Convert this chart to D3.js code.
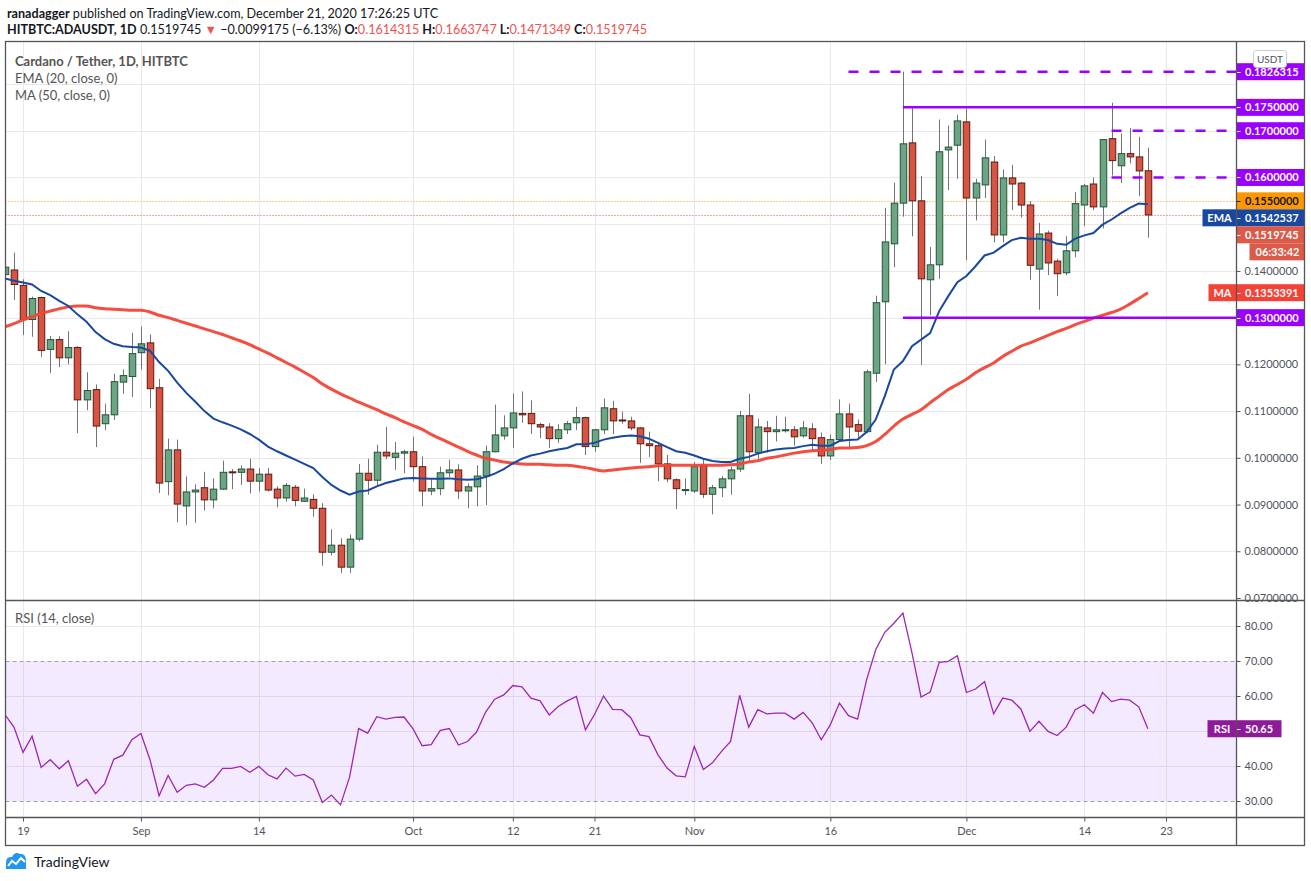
<!DOCTYPE html>
<html>
<head>
<meta charset="utf-8">
<script src="https://cdn.jsdelivr.net/npm/d3@7"></script>
<style>
  body { margin: 0; background: #fff; }
  svg { display: block; font-family: Lato, "Liberation Sans", sans-serif; }
</style>
</head>
<body>
<div id="chart"></div>
<script>
// --------------------------------------
//  Data (daily candles, first candle 2020-08-17)
// --------------------------------------

const startDate = "2020-08-17";

const open = [
  0.1392, 0.1402, 0.1369, 0.1296, 0.1343, 0.1232, 0.1253, 0.1214, 0.1236, 0.1124,
  0.1146, 0.1073, 0.1092, 0.1162, 0.1174, 0.1225, 0.1246, 0.1150, 0.0949, 0.1017,
  0.0897, 0.0927, 0.0936, 0.0910, 0.0933, 0.0970, 0.0969, 0.0976, 0.0950, 0.0965,
  0.0933, 0.0914, 0.0937, 0.0907, 0.0911, 0.0892, 0.0798, 0.0813, 0.0766, 0.0826,
  0.0967, 0.0952, 0.1012, 0.1001, 0.1010, 0.1013, 0.0981, 0.0929, 0.0934, 0.0968,
  0.0974, 0.0929, 0.0938, 0.0961, 0.1013, 0.1047, 0.1064, 0.1095, 0.1095, 0.1071,
  0.1066, 0.1041, 0.1060, 0.1075, 0.1086, 0.1024, 0.1060, 0.1105, 0.1081, 0.1079,
  0.1064, 0.1030, 0.1026, 0.0987, 0.0953, 0.0931, 0.0929, 0.0983, 0.0922, 0.0936,
  0.0955, 0.0976, 0.1090, 0.1011, 0.1064, 0.1056, 0.1058, 0.1060, 0.1047, 0.1062,
  0.1043, 0.1004, 0.1039, 0.1094, 0.1071, 0.1056, 0.1181, 0.1334, 0.1458, 0.1545,
  0.1674, 0.1550, 0.1381, 0.1413, 0.1659, 0.1669, 0.1719, 0.1556, 0.1584, 0.1633,
  0.1477, 0.1599, 0.1588, 0.1541, 0.1404, 0.1481, 0.1421, 0.1396, 0.1443, 0.1541,
  0.1586, 0.1537, 0.1683, 0.1625, 0.1651, 0.1644, 0.1614315
];

const high = [
  0.1415, 0.1439, 0.1382, 0.1345, 0.1345, 0.1261, 0.1260, 0.1271, 0.1239, 0.1183,
  0.1157, 0.1116, 0.1180, 0.1189, 0.1268, 0.1281, 0.1264, 0.1169, 0.1041, 0.1039,
  0.0960, 0.0943, 0.0970, 0.0956, 0.0994, 0.0976, 0.0984, 0.0998, 0.0978, 0.0978,
  0.0939, 0.0946, 0.0942, 0.0934, 0.0922, 0.0903, 0.0847, 0.0828, 0.0836, 0.0987,
  0.0998, 0.1028, 0.1066, 0.1034, 0.1017, 0.1045, 0.1003, 0.0954, 0.0981, 0.0996,
  0.0986, 0.0945, 0.0984, 0.1026, 0.1114, 0.1091, 0.1138, 0.1142, 0.1123, 0.1075,
  0.1074, 0.1072, 0.1079, 0.1109, 0.1088, 0.1062, 0.1127, 0.1122, 0.1099, 0.1088,
  0.1066, 0.1056, 0.1034, 0.1006, 0.0956, 0.0956, 0.0991, 0.0999, 0.0942, 0.0961,
  0.0981, 0.1100, 0.1137, 0.1084, 0.1079, 0.1090, 0.1088, 0.1068, 0.1079, 0.1074,
  0.1054, 0.1050, 0.1125, 0.1116, 0.1082, 0.1189, 0.1347, 0.1535, 0.1589, 0.1826315,
  0.1750, 0.1603, 0.1451, 0.1724, 0.1711, 0.1734, 0.1747, 0.1597, 0.1681, 0.1646,
  0.1617, 0.1627, 0.1590, 0.1549, 0.1503, 0.1486, 0.1426, 0.1474, 0.1569, 0.1586,
  0.1600, 0.1681, 0.1760, 0.1694, 0.1706, 0.1687, 0.1663747
];

const low = [
  0.1385, 0.1338, 0.1263, 0.1259, 0.1216, 0.1182, 0.1194, 0.1200, 0.1053, 0.1102,
  0.1023, 0.1059, 0.1081, 0.1137, 0.1130, 0.1189, 0.1106, 0.0925, 0.0920, 0.0862,
  0.0856, 0.0861, 0.0887, 0.0892, 0.0931, 0.0933, 0.0942, 0.0924, 0.0928, 0.0928,
  0.0894, 0.0906, 0.0896, 0.0907, 0.0874, 0.0769, 0.0791, 0.0754, 0.0754, 0.0821,
  0.0921, 0.0940, 0.0997, 0.0974, 0.0967, 0.0949, 0.0896, 0.0920, 0.0920, 0.0959,
  0.0912, 0.0892, 0.0896, 0.0899, 0.1012, 0.1039, 0.1021, 0.1075, 0.1051, 0.1042,
  0.1021, 0.1032, 0.1051, 0.1059, 0.1006, 0.1013, 0.1051, 0.1051, 0.1073, 0.1059,
  0.0989, 0.1002, 0.0950, 0.0948, 0.0890, 0.0920, 0.0925, 0.0914, 0.0879, 0.0916,
  0.0921, 0.0970, 0.0989, 0.0998, 0.1011, 0.1035, 0.1054, 0.1026, 0.1043, 0.1015,
  0.0987, 0.0995, 0.1036, 0.1020, 0.1043, 0.1053, 0.1162, 0.1200, 0.1408, 0.1516,
  0.1474, 0.1199, 0.1305, 0.1383, 0.1573, 0.1597, 0.1423, 0.1508, 0.1556, 0.1461,
  0.1461, 0.1530, 0.1514, 0.1381, 0.1317, 0.1391, 0.1346, 0.1391, 0.1429, 0.1496,
  0.1530, 0.1491, 0.1604, 0.1588, 0.1630, 0.1560, 0.1471349
];

const close = [
  0.1408, 0.1371, 0.1296, 0.1341, 0.1230, 0.1253, 0.1214, 0.1236, 0.1124, 0.1144,
  0.1068, 0.1092, 0.1163, 0.1176, 0.1223, 0.1244, 0.1148, 0.0946, 0.1017, 0.0901,
  0.0927, 0.0931, 0.0910, 0.0933, 0.0969, 0.0968, 0.0976, 0.0950, 0.0965, 0.0931,
  0.0914, 0.0941, 0.0909, 0.0914, 0.0892, 0.0798, 0.0813, 0.0766, 0.0826, 0.0967,
  0.0952, 0.1012, 0.1004, 0.1010, 0.1013, 0.0981, 0.0929, 0.0934, 0.0968, 0.0974,
  0.0929, 0.0938, 0.0961, 0.1013, 0.1049, 0.1064, 0.1096, 0.1092, 0.1073, 0.1066,
  0.1041, 0.1060, 0.1073, 0.1086, 0.1024, 0.1060, 0.1107, 0.1079, 0.1079, 0.1064,
  0.1030, 0.1026, 0.0987, 0.0955, 0.0934, 0.0932, 0.0981, 0.0922, 0.0936, 0.0955,
  0.0974, 0.1090, 0.1013, 0.1066, 0.1056, 0.1060, 0.1060, 0.1045, 0.1064, 0.1041,
  0.1004, 0.1039, 0.1094, 0.1066, 0.1057, 0.1184, 0.1332, 0.1462, 0.1545, 0.1672,
  0.1550, 0.1383, 0.1413, 0.1655, 0.1665, 0.1721, 0.1556, 0.1588, 0.1642, 0.1477,
  0.1599, 0.1586, 0.1541, 0.1412, 0.1479, 0.1417, 0.1394, 0.1443, 0.1544, 0.1582,
  0.1537, 0.1681, 0.1636, 0.1651, 0.1644, 0.1614, 0.1519745
];

const ema20 = [
  0.1384, 0.1379, 0.1375, 0.1371, 0.1357, 0.1348, 0.1336, 0.1325, 0.1307, 0.1291,
  0.1269, 0.1254, 0.1244, 0.1239, 0.1237, 0.1236, 0.1229, 0.1205, 0.1186, 0.1161,
  0.1139, 0.1120, 0.1100, 0.1084, 0.1076, 0.1069, 0.1061, 0.1051, 0.1039, 0.1024,
  0.1014, 0.1005, 0.0996, 0.0987, 0.0978, 0.0959, 0.0942, 0.0930, 0.0921, 0.0928,
  0.0930, 0.0939, 0.0946, 0.0951, 0.0956, 0.0957, 0.0956, 0.0955, 0.0955, 0.0956,
  0.0954, 0.0953, 0.0954, 0.0959, 0.0966, 0.0976, 0.0988, 0.0998, 0.1005, 0.1009,
  0.1014, 0.1018, 0.1021, 0.1029, 0.1029, 0.1032, 0.1039, 0.1043, 0.1046, 0.1048,
  0.1046, 0.1041, 0.1032, 0.1023, 0.1014, 0.1011, 0.1005, 0.0998, 0.0993, 0.0991,
  0.0991, 0.0998, 0.1002, 0.1009, 0.1014, 0.1018, 0.1020, 0.1021, 0.1025, 0.1028,
  0.1026, 0.1026, 0.1036, 0.1038, 0.1039, 0.1055, 0.1082, 0.1132, 0.1189, 0.1207,
  0.1239, 0.1253, 0.1267, 0.1314, 0.1346, 0.1376, 0.1389, 0.1410, 0.1433, 0.1439,
  0.1453, 0.1466, 0.1471, 0.1469, 0.1469, 0.1466, 0.1458, 0.1456, 0.1469, 0.1476,
  0.1481, 0.1499, 0.1510, 0.1523, 0.1535, 0.1544, 0.1542537
];

const ma50 = [
  0.1280, 0.1287, 0.1295, 0.1302, 0.1309, 0.1314, 0.1319, 0.1323, 0.1325, 0.1325,
  0.1321, 0.1319, 0.1318, 0.1317, 0.1316, 0.1316, 0.1312, 0.1305, 0.1300, 0.1294,
  0.1288, 0.1282, 0.1276, 0.1270, 0.1264, 0.1257, 0.1250, 0.1242, 0.1233, 0.1224,
  0.1214, 0.1204, 0.1194, 0.1183, 0.1172, 0.1158, 0.1147, 0.1137, 0.1128, 0.1119,
  0.1111, 0.1103, 0.1094, 0.1086, 0.1077, 0.1069, 0.1061, 0.1050, 0.1041, 0.1032,
  0.1023, 0.1014, 0.1006, 0.0999, 0.0995, 0.0991, 0.0989, 0.0987, 0.0986, 0.0986,
  0.0985, 0.0984, 0.0984, 0.0982, 0.0979, 0.0975, 0.0972, 0.0974, 0.0976, 0.0978,
  0.0980, 0.0981, 0.0983, 0.0984, 0.0984, 0.0984, 0.0984, 0.0984, 0.0984, 0.0984,
  0.0985, 0.0987, 0.0991, 0.0994, 0.0999, 0.1002, 0.1006, 0.1010, 0.1013, 0.1015,
  0.1016, 0.1018, 0.1021, 0.1021, 0.1022, 0.1026, 0.1035, 0.1050, 0.1068, 0.1083,
  0.1093, 0.1103, 0.1118, 0.1132, 0.1146, 0.1157, 0.1168, 0.1182, 0.1193, 0.1203,
  0.1217, 0.1228, 0.1239, 0.1246, 0.1254, 0.1262, 0.1270, 0.1277, 0.1285, 0.1292,
  0.1299, 0.1305, 0.1311, 0.1318, 0.1329, 0.1341, 0.1353391
];

const rsi14 = [
  54.7, 51.1, 43.9, 48.5, 39.6, 41.8, 39.2, 41.5, 34.2, 36.2,
  32.1, 34.9, 41.9, 43.1, 47.5, 49.3, 41.8, 31.5, 37.3, 32.5,
  34.5, 34.9, 33.9, 36.0, 39.3, 39.3, 39.9, 38.2, 39.9, 37.5,
  36.3, 39.4, 37.1, 37.6, 36.0, 29.6, 31.7, 28.9, 36.8, 50.7,
  49.4, 54.1, 53.4, 53.9, 54.0, 50.6, 45.8, 46.1, 50.2, 50.7,
  46.0, 47.0, 49.7, 55.4, 59.1, 60.3, 63.0, 62.6, 59.4, 58.6,
  54.6, 57.0, 58.6, 59.9, 50.3, 54.7, 60.0, 56.2, 56.1, 53.8,
  48.9, 48.4, 43.2, 39.4, 37.2, 36.9, 45.6, 39.0, 40.9, 44.2,
  47.0, 60.2, 51.1, 56.1, 54.9, 55.1, 55.1, 53.4, 55.3, 52.3,
  47.5, 51.8, 58.0, 54.4, 53.4, 64.7, 73.2, 78.2, 80.8, 83.7,
  72.3, 59.7, 61.1, 69.6, 69.9, 71.5, 61.0, 62.0, 64.1, 54.9,
  59.4, 58.8, 56.3, 49.9, 52.8, 49.9, 48.7, 51.1, 56.1, 57.5,
  55.1, 61.0, 58.4, 59.1, 58.8, 56.9, 50.65
];

const tickDates  = ["2020-08-19", "2020-09-01", "2020-09-14", "2020-10-01", "2020-10-12", "2020-10-21",
                    "2020-11-01", "2020-11-16", "2020-12-01", "2020-12-14", "2020-12-23"];
const tickLabels = ["19", "Sep", "14", "Oct", "12", "21", "Nov", "16", "Dec", "14", "23"];

const priceTicks = [0.07, 0.08, 0.09, 0.10, 0.11, 0.12, 0.13, 0.14, 0.15, 0.16, 0.17, 0.18];
const rsiTicks   = [30, 40, 50, 60, 70, 80];

// drawn support / resistance levels
const solidLevels      = [0.175, 0.13];
const solidLevelStart  = ["2020-11-24", "2020-11-24"];
const dashedLevels     = [0.1826315, 0.17, 0.16];
const dashedLevelStart = ["2020-11-18", "2020-12-17", "2020-12-17"];
const alertLevel = 0.155;
const countdown = "06:33:42";

// --------------------------------------
//  Canvas
// --------------------------------------

const width = 1311, height = 881;
const paneLeft = 5.5, axisX = 1236.5, frameRight = 1304.5;
const priceTop = 41.5, priceBottom = 600.5, rsiBottom = 817.5, frameBottom = 845.5;

const parse = d3.utcParse("%Y-%m-%d");
const day0 = parse(startDate);
const candles = open.map((o, i) => ({
  date: d3.utcDay.offset(day0, i),
  o: o, h: high[i], l: low[i], c: close[i],
  ema: ema20[i], ma: ma50[i], rsi: rsi14[i]
}));

const svg = d3.select("#chart")
  .append("svg")
    .attr("width", width)
    .attr("height", height)
    .attr("viewBox", [0, 0, width, height]);

// --------------------------------------
//  Scales
// --------------------------------------

const x = d3.scaleUtc()
    .domain([parse("2020-08-19"), parse("2020-12-23")])
    .range([23, 1166]);

const y = d3.scaleLinear()
    .domain([0.07, 0.18])
    .range([598, 84]);

const yR = d3.scaleLinear()
    .domain([30, 70])
    .range([801, 661]);

const textCol = "#50535e";
const purple = "#9b00ff";
const up = "#6ba583", upLine = "#225437";
const down = "#d75442", downLine = "#5b1a13";

// --------------------------------------
//  Clips
// --------------------------------------

const defs = svg.append("defs");
defs.append("clipPath").attr("id", "clipP")
  .append("rect").attr("x", paneLeft).attr("y", priceTop)
    .attr("width", axisX - paneLeft).attr("height", priceBottom - priceTop);
defs.append("clipPath").attr("id", "clipR")
  .append("rect").attr("x", paneLeft).attr("y", priceBottom)
    .attr("width", axisX - paneLeft).attr("height", rsiBottom - priceBottom);

// --------------------------------------
//  Grid
// --------------------------------------

const grid = svg.append("g").attr("stroke", "#e9e9ea").attr("stroke-width", 1);

grid.selectAll("line.v")
  .data(tickDates)
  .join("line")
    .attr("x1", d => Math.round(x(parse(d))) + 0.5)
    .attr("x2", d => Math.round(x(parse(d))) + 0.5)
    .attr("y1", priceTop)
    .attr("y2", rsiBottom);

grid.selectAll("line.p")
  .data(priceTicks.filter(d => d > 0.07))
  .join("line")
    .attr("x1", paneLeft).attr("x2", axisX)
    .attr("y1", d => Math.round(y(d)) + 0.5)
    .attr("y2", d => Math.round(y(d)) + 0.5);

grid.selectAll("line.r")
  .data(rsiTicks.filter(d => d !== 30 && d !== 70))
  .join("line")
    .attr("x1", paneLeft).attr("x2", axisX)
    .attr("y1", d => Math.round(yR(d)) + 0.5)
    .attr("y2", d => Math.round(yR(d)) + 0.5);

// --------------------------------------
//  RSI pane
// --------------------------------------

const rsiG = svg.append("g").attr("clip-path", "url(#clipR)");

rsiG.append("rect")
    .attr("x", paneLeft).attr("width", axisX - paneLeft)
    .attr("y", yR(70)).attr("height", yR(30) - yR(70))
    .attr("fill", "#9a3cff").attr("fill-opacity", 0.11);

rsiG.selectAll("line.band")
  .data([70, 30])
  .join("line")
    .attr("x1", paneLeft).attr("x2", axisX)
    .attr("y1", d => Math.round(yR(d)) + 0.5)
    .attr("y2", d => Math.round(yR(d)) + 0.5)
    .attr("stroke", "#a89bb0")
    .attr("stroke-dasharray", "4,3");

rsiG.append("path")
    .datum(candles)
    .attr("fill", "none")
    .attr("stroke", "#9c27b0")
    .attr("stroke-width", 1.3)
    .attr("d", d3.line().x(d => x(d.date)).y(d => yR(d.rsi)));

// --------------------------------------
//  Price pane: candles, averages, levels
// --------------------------------------

const priceG = svg.append("g").attr("clip-path", "url(#clipP)");

// price lines (alert + last close)
priceG.append("line")
    .attr("x1", paneLeft).attr("x2", axisX)
    .attr("y1", Math.round(y(alertLevel)) + 0.5).attr("y2", Math.round(y(alertLevel)) + 0.5)
    .attr("stroke", "#ff9800").attr("stroke-dasharray", "1,2");

const last = candles[candles.length - 1];
priceG.append("line")
    .attr("x1", paneLeft).attr("x2", axisX)
    .attr("y1", Math.round(y(last.c)) + 0.5).attr("y2", Math.round(y(last.c)) + 0.5)
    .attr("stroke", down).attr("stroke-dasharray", "1,2");

const bodyW = 6.5;

priceG.selectAll("line.wick")
  .data(candles)
  .join("line")
    .attr("x1", d => Math.round(x(d.date)) + 0.5)
    .attr("x2", d => Math.round(x(d.date)) + 0.5)
    .attr("y1", d => y(d.h))
    .attr("y2", d => y(d.l))
    .attr("stroke", "#737375");

priceG.selectAll("rect.body")
  .data(candles)
  .join("rect")
    .attr("x", d => Math.round(x(d.date)) + 0.5 - bodyW / 2)
    .attr("width", bodyW)
    .attr("y", d => y(Math.max(d.o, d.c)))
    .attr("height", d => Math.max(1, Math.abs(y(d.o) - y(d.c))))
    .attr("fill", d => d.c >= d.o ? up : down)
    .attr("stroke", d => d.c >= d.o ? upLine : downLine)
    .attr("stroke-width", 1);

priceG.append("path")
    .datum(candles)
    .attr("fill", "none")
    .attr("stroke", "#f44336")
    .attr("stroke-width", 3)
    .attr("stroke-opacity", 0.95)
    .attr("d", d3.line().curve(d3.curveMonotoneX).x(d => x(d.date)).y(d => y(d.ma)));

priceG.append("path")
    .datum(candles)
    .attr("fill", "none")
    .attr("stroke", "#1848a0")
    .attr("stroke-width", 2)
    .attr("d", d3.line().x(d => x(d.date)).y(d => y(d.ema)));

priceG.selectAll("line.solid")
  .data(solidLevels)
  .join("line")
    .attr("x1", (d, i) => x(parse(solidLevelStart[i])))
    .attr("x2", axisX)
    .attr("y1", d => y(d)).attr("y2", d => y(d))
    .attr("stroke", purple).attr("stroke-width", 2.5);

priceG.selectAll("line.dashed")
  .data(dashedLevels)
  .join("line")
    .attr("x1", (d, i) => x(parse(dashedLevelStart[i])))
    .attr("x2", axisX)
    .attr("y1", d => y(d)).attr("y2", d => y(d))
    .attr("stroke", purple).attr("stroke-width", 2.5)
    .attr("stroke-dasharray", "10,11");

// --------------------------------------
//  Right-hand value tags (positions first, so axis labels under them can be dropped)
// --------------------------------------

const tagH = 17;
const fmt7 = d3.format(".7f");
const tags = [
  { v: dashedLevels[0], bg: purple, fg: "#fff" },
  { v: solidLevels[0],  bg: purple, fg: "#fff" },
  { v: dashedLevels[1], bg: purple, fg: "#fff" },
  { v: dashedLevels[2], bg: purple, fg: "#fff" },
  { v: alertLevel,      bg: "#ff9800", fg: "#131722" },
  { v: last.ema, bg: "#1848a0", fg: "#fff", name: "EMA", nameW: 34 },
  { v: last.c,   bg: "#dc5a48", fg: "#fff", extra: countdown },
  { v: last.ma,  bg: "#f44336", fg: "#fff", name: "MA", nameW: 28 },
  { v: solidLevels[1],  bg: purple, fg: "#fff" }
];

// push overlapping tags down
let floor = -Infinity;
tags.forEach(t => {
  t.y = Math.max(y(t.v), floor);
  floor = t.y + tagH * (t.extra ? 2 : 1);
});
const tagSpans = tags.map(t => [t.y - tagH / 2, t.y + tagH * (t.extra ? 1.5 : 0.5)]);
const rsiY = yR(last.rsi);

// --------------------------------------
//  Axes
// --------------------------------------

const yAxis = svg.append("g")
    .attr("transform", `translate(${axisX},0)`)
    .call(d3.axisRight(y).tickValues(priceTicks).tickFormat(fmt7).tickSize(4).tickPadding(4));

const rAxis = svg.append("g")
    .attr("transform", `translate(${axisX},0)`)
    .call(d3.axisRight(yR).tickValues(rsiTicks).tickFormat(d3.format(".2f")).tickSize(4).tickPadding(4));

const xAxis = svg.append("g")
    .attr("transform", `translate(0,${rsiBottom})`)
    .call(d3.axisBottom(x).tickValues(tickDates.map(parse))
      .tickFormat((d, i) => tickLabels[i]).tickSize(4).tickPadding(6));

// labels hidden behind a tag are not shown
yAxis.selectAll(".tick")
  .filter(d => tagSpans.some(([a, b]) => y(d) + 4 > a && y(d) - 4 < b))
  .remove();
rAxis.selectAll(".tick")
  .filter(d => Math.abs(yR(d) - rsiY) < tagH)
  .remove();

[yAxis, rAxis, xAxis].forEach(a => {
  a.select(".domain").remove();
  a.selectAll(".tick line").attr("stroke", "#50535e");
  a.selectAll("text")
    .attr("fill", textCol)
    .attr("font-size", 11)
    .attr("font-family", "Lato, 'Liberation Sans', sans-serif");
});

// --------------------------------------
//  Tags drawing
// --------------------------------------

const tagG = svg.append("g")
    .attr("font-size", 11)
    .attr("font-weight", 700);

tags.forEach(t => {
  tagG.append("rect")
      .attr("x", axisX).attr("y", t.y - tagH / 2)
      .attr("width", frameRight - axisX).attr("height", tagH)
      .attr("fill", t.bg);
  tagG.append("line")
      .attr("x1", axisX).attr("x2", axisX + 4)
      .attr("y1", Math.round(t.y) + 0.5).attr("y2", Math.round(t.y) + 0.5)
      .attr("stroke", t.fg);
  tagG.append("text")
      .attr("x", axisX + 8.5).attr("y", t.y).attr("dy", "0.36em")
      .attr("fill", t.fg).text(fmt7(t.v));
  if (t.name) {
    tagG.append("rect")
        .attr("x", axisX - t.nameW).attr("y", t.y - tagH / 2)
        .attr("width", t.nameW).attr("height", tagH)
        .attr("fill", t.bg);
    tagG.append("text")
        .attr("x", axisX - t.nameW / 2).attr("y", t.y).attr("dy", "0.36em")
        .attr("text-anchor", "middle").attr("fill", t.fg).text(t.name);
  }
  if (t.extra) {
    tagG.append("rect")
        .attr("x", axisX + 13).attr("y", t.y + tagH / 2)
        .attr("width", frameRight - axisX - 13).attr("height", tagH)
        .attr("fill", t.bg);
    tagG.append("text")
        .attr("x", axisX + 19).attr("y", t.y + tagH).attr("dy", "0.36em")
        .attr("fill", t.fg).text(t.extra);
  }
});

// RSI tag
tagG.append("rect").attr("x", axisX - 29).attr("y", rsiY - tagH / 2)
    .attr("width", 29 + 45).attr("height", tagH).attr("fill", "#8e1a99");
tagG.append("line").attr("x1", axisX).attr("x2", axisX + 4)
    .attr("y1", Math.round(rsiY) + 0.5).attr("y2", Math.round(rsiY) + 0.5).attr("stroke", "#fff");
tagG.append("text").attr("x", axisX - 14.5).attr("y", rsiY).attr("dy", "0.36em")
    .attr("text-anchor", "middle").attr("fill", "#fff").text("RSI");
tagG.append("text").attr("x", axisX + 8.5).attr("y", rsiY).attr("dy", "0.36em")
    .attr("fill", "#fff").text(d3.format(".2f")(last.rsi));

// USDT unit box
svg.append("rect")
    .attr("x", 1253.5).attr("y", 50.5).attr("width", 33).attr("height", 17).attr("rx", 3)
    .attr("fill", "#fff").attr("stroke", "#c9cbd1");
svg.append("text")
    .attr("x", 1270).attr("y", 59).attr("dy", "0.35em").attr("text-anchor", "middle")
    .attr("font-size", 10).attr("fill", textCol).text("USDT");

// --------------------------------------
//  Frame
// --------------------------------------

const frame = svg.append("g").attr("stroke", "#555").attr("stroke-width", 1.3).attr("fill", "none");
frame.append("rect").attr("x", paneLeft).attr("y", priceTop)
    .attr("width", frameRight - paneLeft).attr("height", frameBottom - priceTop);
frame.append("line").attr("x1", axisX).attr("x2", axisX).attr("y1", priceTop).attr("y2", frameBottom);
frame.append("line").attr("x1", paneLeft).attr("x2", frameRight).attr("y1", priceBottom).attr("y2", priceBottom);
frame.append("line").attr("x1", paneLeft).attr("x2", frameRight).attr("y1", rsiBottom).attr("y2", rsiBottom);

// --------------------------------------
//  Texts
// --------------------------------------

const head1 = svg.append("text").attr("x", 7).attr("y", 18)
    .attr("font-size", 12.6).attr("fill", "#131722");
head1.append("tspan").attr("font-weight", 700).text("ranadagger");
head1.append("tspan").text(" published on TradingView.com, December 21, 2020 17:26:25 UTC");

const head2 = svg.append("text").attr("x", 7).attr("y", 34)
    .attr("font-size", 12.6).attr("fill", "#131722");
const red = "#ef5350";
[
  ["HITBTC:ADAUSDT, 1D", 700, null],
  ["  0.1519745 ", 400, null],
  ["▼", 400, red],
  [" \u22120.0099175 (\u22126.13%) ", 400, null],
  ["O:", 700, null], ["0.1614315", 400, red],
  [" H:", 700, null], ["0.1663747", 400, red],
  [" L:", 700, null], ["0.1471349", 400, red],
  [" C:", 700, null], ["0.1519745", 400, red]
].forEach(([t, w, c]) => {
  const s = head2.append("tspan").attr("font-weight", w).text(t);
  if (c) s.attr("fill", c);
});

svg.append("text").attr("x", 15).attr("y", 66)
    .attr("font-size", 13).attr("font-weight", 700).attr("fill", "#555")
    .text("Cardano / Tether, 1D, HITBTC");
svg.append("text").attr("x", 15).attr("y", 83)
    .attr("font-size", 13).attr("fill", "#555")
    .text("EMA (20, close, 0)");
svg.append("text").attr("x", 15).attr("y", 100)
    .attr("font-size", 13).attr("fill", "#555")
    .text("MA (50, close, 0)");
svg.append("text").attr("x", 15).attr("y", 623)
    .attr("font-size", 13).attr("fill", "#555")
    .text("RSI (14, close)");

// TradingView logo
const logo = svg.append("g");
logo.append("path")
    .attr("d", "M6,869 L6,863 Q6,856 12,857 Q15,851 20,854 Q26,853 26,861 L26,869 Z")
    .attr("fill", "#2196f3");
logo.append("polyline")
    .attr("points", "8,866 12,861 16,864 21,858 25,862")
    .attr("fill", "none").attr("stroke", "#fff").attr("stroke-width", 2);
logo.append("text").attr("x", 34).attr("y", 867)
    .attr("font-size", 14).attr("fill", "#131722")
    .text("TradingView");
</script>
</body>
</html>
